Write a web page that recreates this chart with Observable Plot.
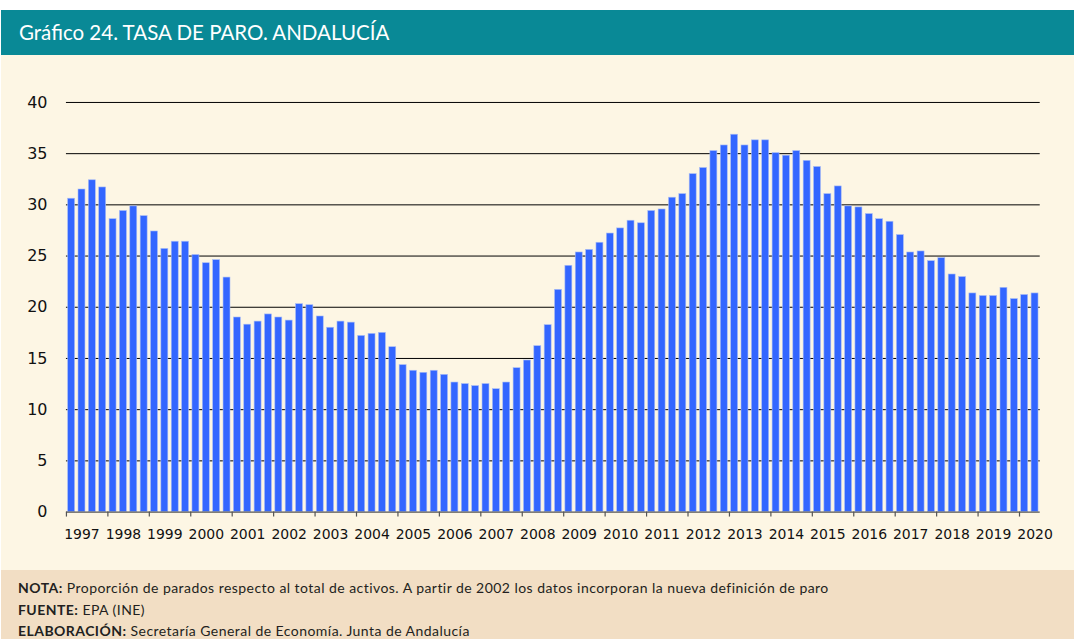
<!DOCTYPE html>
<html>
<head>
<meta charset="utf-8">
<script src="https://cdn.jsdelivr.net/npm/d3@7"></script>
<script src="https://cdn.jsdelivr.net/npm/@observablehq/plot@0.6"></script>
<style>
  html, body { margin: 0; padding: 0; background: #ffffff; }
  #page { width: 1074px; height: 639px; position: relative; overflow: hidden; }
  #title { position: absolute; left: 1px; top: 10px; width: 1073px; height: 45px; background: #098996;
           color: #ffffff; font-family: Lato, "Open Sans", sans-serif; font-size: 20.5px; line-height: 45px;
           padding-left: 18px; box-sizing: border-box; }
  #chart { position: absolute; left: 1px; top: 55px; width: 1073px; height: 515px; background: #FDF6E4; }
  #chart svg { position: absolute; left: -1px; top: 0; }
  #footer { position: absolute; left: 1px; top: 570px; width: 1073px; height: 69px; background: #F2DEC4;
            font-family: Lato, "Open Sans", sans-serif; font-size: 14px; letter-spacing: 0.45px; color: #231F20;
            padding-left: 17px; box-sizing: border-box; padding-top: 7px; }
  #footer div { height: 21.5px; line-height: 21.5px; white-space: nowrap; }
</style>
</head>
<body>
<div id="page">
  <div id="title">Gráfico 24. TASA DE PARO. ANDALUCÍA</div>
  <div id="chart"></div>
  <div id="footer">
    <div><b>NOTA:</b> Proporción de parados respecto al total de activos. A partir de 2002 los datos incorporan la nueva definición de paro</div>
    <div><b>FUENTE:</b> EPA (INE)</div>
    <div><b>ELABORACIÓN:</b> Secretaría General de Economía. Junta de Andalucía</div>
  </div>
</div>
<script>
// Years shown on the axis
const years = [1997, 1998, 1999, 2000, 2001, 2002, 2003, 2004, 2005, 2006, 2007, 2008,
               2009, 2010, 2011, 2012, 2013, 2014, 2015, 2016, 2017, 2018, 2019, 2020];
// Quarters per year (2020 only two)
const quartersPerYear = [4, 4, 4, 4, 4, 4, 4, 4, 4, 4, 4, 4, 4, 4, 4, 4, 4, 4, 4, 4, 4, 4, 4, 2];
// Unemployment rate (%), quarterly, 1997Q1 - 2020Q2
const rates = [
  30.6, 31.5, 32.4, 31.7,
  28.6, 29.4, 29.85, 28.9,
  27.4, 25.7, 26.4, 26.4,
  25.1, 24.3, 24.6, 22.9,
  19.0, 18.3, 18.6, 19.3,
  19.0, 18.7, 20.3, 20.2,
  19.1, 18.0, 18.6, 18.5,
  17.2, 17.4, 17.5, 16.1,
  14.35, 13.8, 13.6, 13.8,
  13.4, 12.65, 12.5, 12.3,
  12.5, 12.0, 12.65, 14.05,
  14.8, 16.2, 18.25, 21.7,
  24.05, 25.35, 25.6, 26.3,
  27.2, 27.7, 28.45, 28.2,
  29.4, 29.55, 30.7, 31.05,
  33.0, 33.6, 35.25, 35.8,
  36.85, 35.8, 36.3, 36.3,
  35.05, 34.8, 35.25, 34.3,
  33.7, 31.05, 31.8, 29.85,
  29.75, 29.1, 28.6, 28.35,
  27.05, 25.35, 25.45, 24.5,
  24.8, 23.2, 22.95, 21.35,
  21.1, 21.1, 21.9, 20.8,
  21.2, 21.35
];
const yTicks = [0, 5, 10, 15, 20, 25, 30, 35, 40];

// Build table
const bars = [];
const yearStarts = [];
let k = 0;
years.forEach((yr, yi) => {
  yearStarts.push({year: yr, start: k});
  for (let q = 0; q < quartersPerYear[yi]; q++) {
    bars.push({i: k, year: yr, q: q + 1, value: rates[k]});
    k++;
  }
});
const n = bars.length;

const chart = Plot.plot({
  width: 1074,
  height: 515,
  marginLeft: 66,
  marginRight: 33.3,
  marginTop: 47,
  marginBottom: 58,
  style: {background: "transparent", fontFamily: "'DejaVu Sans', Verdana, sans-serif", color: "#111"},
  x: {domain: [0, n], axis: null},
  y: {domain: [0, 40], axis: null},
  marks: [
    Plot.ruleY(yTicks.filter(d => d > 0), {stroke: "#000", strokeWidth: 1}),
    Plot.rectY(bars, {x1: "i", x2: d => d.i + 1, y1: 0, y2: "value", fill: "#3366FF",
                      stroke: "#a9bdf5", strokeWidth: 0.6, insetLeft: 1.7, insetRight: 1.7}),
    Plot.ruleY([0], {stroke: "#555", strokeWidth: 1.2}),
    Plot.ruleX(yearStarts, {x: "start", y1: 0, y2: 0, stroke: "#555", strokeWidth: 1.2, insetBottom: -5}),
    Plot.axisY({ticks: yTicks, tickSize: 0, tickPadding: 19, fontSize: 16, anchor: "left", label: null}),
    Plot.text(yearStarts, {x: d => d.start + 1.5, y: 0, dy: 22, text: d => String(d.year),
                           fontSize: 14, lineAnchor: "middle", fill: "#111"})
  ]
});
document.getElementById("chart").appendChild(chart);
</script>
</body>
</html>
